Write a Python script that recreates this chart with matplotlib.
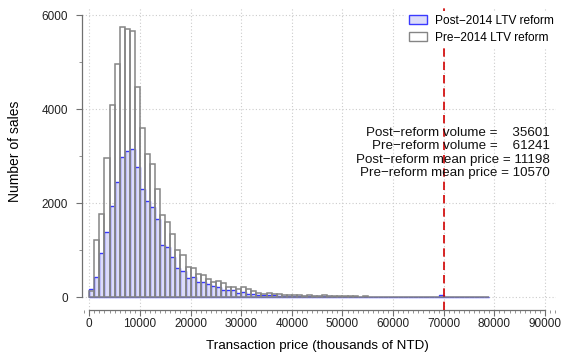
import matplotlib
matplotlib.use("Agg")
import matplotlib.pyplot as plt
from matplotlib.patches import Patch
from matplotlib.ticker import MultipleLocator
import numpy as np

# ---------------- data ----------------
bin_width = 1000  # thousands of NTD per bin, bins start at 0
pre_counts = [140, 1216, 1767, 2968, 4092, 4961, 5738, 5696, 5654, 4466,
              3597, 3039, 2827, 2297, 1753, 1604, 1350, 1004, 905, 643,
              615, 495, 466, 396, 325, 346, 297, 226, 226, 170,
              212, 184, 141, 99, 71, 85, 71, 60, 58, 48,
              52, 40, 36, 42, 32, 30, 44, 38, 26, 24,
              22, 25, 19, 16, 18, 15, 13, 16, 12, 12,
              11, 10, 11, 9, 9, 8, 9, 8, 7, 12,
              7, 7, 6, 6, 5, 5, 4, 5, 4]
post_counts = [184, 438, 933, 1378, 1936, 2459, 2982, 3102, 3145, 2770,
               2304, 2042, 1922, 1661, 1110, 1067, 855, 615, 551, 403,
               431, 325, 325, 290, 240, 226, 155, 155, 148, 99,
               113, 71, 71, 57, 42, 57, 50, 30, 34, 28,
               30, 24, 22, 26, 20, 18, 24, 21, 17, 15,
               14, 16, 12, 11, 12, 10, 9, 11, 8, 8,
               8, 7, 8, 7, 6, 6, 7, 6, 5, 40,
               5, 5, 4, 4, 4, 3, 3, 4, 3]
series_labels = ["Post\u22122014 LTV reform", "Pre\u22122014 LTV reform"]
cutoff_price = 70000
annot_lines = ["Post\u2212reform volume =    35601",
               "Pre\u2212reform volume =    61241",
               "Post\u2212reform mean price = 11198",
               "Pre\u2212reform mean price = 10570"]
x_ticks = list(range(0, 90001, 10000))
y_ticks = [0, 2000, 4000, 6000]
x_label = "Transaction price (thousands of NTD)"
y_label = "Number of sales"

# ---------------- style ----------------
plt.rcParams["font.family"] = ["Liberation Sans", "DejaVu Sans"]
W, H = 561, 354
fig = plt.figure(figsize=(W / 100, H / 100), dpi=100)

ax_l, ax_r, ax_b, ax_t = 82, 556, 310, 8
ax = fig.add_axes([ax_l / W, (H - ax_b) / H, (ax_r - ax_l) / W, (ax_b - ax_t) / H])

x0_px, x90_px = 89.3, 545.0
ppx = (x90_px - x0_px) / 90000
y0_px, y6_px = 297.3, 15.0
ppy = (y0_px - y6_px) / 6000
ax.set_xlim((ax_l - x0_px) / ppx, (ax_r - x0_px) / ppx)
ax.set_ylim(-(ax_b - y0_px) / ppy, 6000 + (y6_px - ax_t) / ppy)

post_fill = "#dcdcf9"
post_edge = "#3a3aff"
pre_edge = "#858585"

edges = np.arange(len(pre_counts)) * bin_width
ax.bar(edges, post_counts, width=bin_width, align="edge",
       facecolor=post_fill, edgecolor=post_edge, linewidth=1.0, zorder=2)
ax.bar(edges, pre_counts, width=bin_width, align="edge",
       facecolor="none", edgecolor=pre_edge, linewidth=1.1, zorder=3)

ax.axvline(cutoff_price, color="#d10000", linestyle=(0, (5, 3)), linewidth=1.2, zorder=4)

# grid
ax.set_xticks(x_ticks)
ax.set_yticks(y_ticks)
ax.grid(True, linestyle=(0, (1, 2)), color="#cccccc", linewidth=0.8)
ax.set_axisbelow(True)

# spines
for s in ["top", "right"]:
    ax.spines[s].set_visible(False)
ax.spines["left"].set_bounds(0, 6000)
ax.spines["bottom"].set_bounds(0, 90000)
for s in ["left", "bottom"]:
    ax.spines[s].set_color("#707070")
    ax.spines[s].set_linewidth(0.9)

ax.xaxis.set_minor_locator(MultipleLocator(1000))
ax.yaxis.set_minor_locator(MultipleLocator(1000))
ax.tick_params(axis="both", which="major", length=4, width=0.8, color="#707070",
               labelsize=8.5, labelcolor="#222222")
ax.tick_params(axis="both", which="minor", length=2, width=0.6, color="#808080")
ax.tick_params(axis="y", which="major", pad=6)
ax.tick_params(axis="x", which="major", pad=2)
ax.set_xticklabels([str(v) for v in x_ticks])
ax.set_yticklabels([str(v) for v in y_ticks])

# axis labels
fig.text(317 / W, 1 - 346 / H, x_label, ha="center", va="center", fontsize=9.6)
fig.text(15 / W, 1 - 151 / H, y_label, ha="center", va="center", rotation=90, fontsize=10)

# annotations
ys = [133, 146, 160, 173]
for line, y in zip(annot_lines, ys):
    fig.text(550 / W, 1 - y / H, line, ha="right", va="center", fontsize=9.6, color="#111111")

# legend
handles = [Patch(facecolor=post_fill, edgecolor=post_edge, linewidth=1.0),
           Patch(facecolor="white", edgecolor=pre_edge, linewidth=1.0)]
leg = ax.legend(handles, series_labels, loc="upper right",
                bbox_to_anchor=(557 / W, 1 - 11 / H), bbox_transform=fig.transFigure,
                fontsize=8.6, frameon=True, fancybox=False, framealpha=1,
                borderaxespad=0, handlelength=1.5, handleheight=0.8,
                handletextpad=0.6, labelspacing=0.45, borderpad=0.3)
leg.get_frame().set_edgecolor("none")
leg.get_frame().set_facecolor("white")
leg.set_zorder(10)

fig.savefig("out.png", dpi=100)
